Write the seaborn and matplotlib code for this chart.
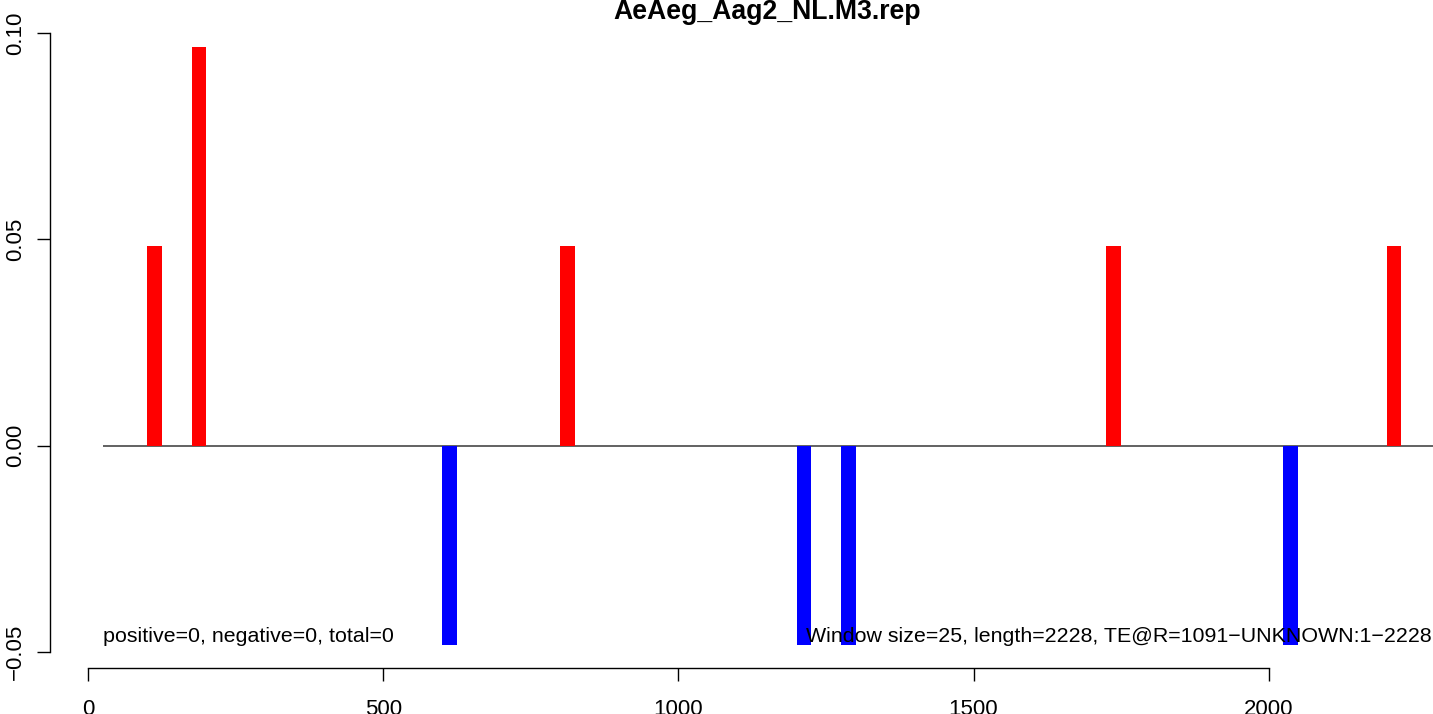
import numpy as np
import pandas as pd
import seaborn as sns
from matplotlib import pyplot as plt

#--------------------------Data------------------------------------------------
window_size = 25
win_centers = [112.5, 187.5, 612.5, 812.5, 1212.5, 1287.5, 1737.5, 2037.5, 2212.5]
win_values = [0.0484, 0.0967, -0.0484, 0.0484, -0.0484, -0.0484, 0.0484, -0.0484, 0.0484]

x_ticks = [0, 500, 1000, 1500, 2000]
y_ticks = [-0.05, 0.00, 0.05, 0.10]
y_ticklabels = ['\u22120.05', '0.00', '0.05', '0.10']

title = 'AeAeg_Aag2_NL.M3.rep'
left_note = 'positive=0, negative=0, total=0'
right_note = 'Window size=25, length=2228, TE@R=1091\u2212UNKNOWN:1\u22122228'

#--------------------------Plot------------------------------------------------
sns.set_style('white')
plt.rcParams['font.family'] = ['Liberation Sans', 'DejaVu Sans']
plt.rcParams['text.color'] = 'black'

df = pd.DataFrame({'pos': win_centers, 'val': win_values})
df['sign'] = np.where(df['val'] >= 0, 'plus', 'minus')

fig = plt.figure(figsize=(14.33, 7.14), dpi=100)
ax = fig.add_axes([50 / 1433, 46 / 714, 1434 / 1433, 645 / 714])

# baseline under the bars
ax.hlines(0, window_size, 2365, color='#555555', lw=1.3, zorder=0)

bar_w = window_size / np.min(np.diff(sorted(win_centers)))
sns.barplot(data=df, x='pos', y='val', hue='sign', palette={'plus': 'red', 'minus': 'blue'},
            native_scale=True, dodge=False, width=bar_w, errorbar=None, saturation=1,
            linewidth=0, legend=False, ax=ax, zorder=2)

ax.set_xlim(-65, 2365)
ax.set_ylim(-0.0539, 0.1024)
ax.set_xlabel('')
ax.set_ylabel('')

ax.set_xticks(x_ticks)
ax.set_xticklabels([str(t) for t in x_ticks], fontsize=16)
ax.set_yticks(y_ticks)
ax.set_yticklabels(y_ticklabels, fontsize=16, rotation=90, va='center')
ax.tick_params(axis='both', bottom=True, left=True, length=9.5, width=1.0,
               color='black', labelcolor='black', direction='out')
ax.tick_params(axis='x', pad=13)
ax.tick_params(axis='y', pad=7.5)

sns.despine(ax=ax, top=True, right=True)
ax.spines['left'].set_bounds(-0.05, 0.10)
ax.spines['bottom'].set_bounds(0, 2000)
for s in ['left', 'bottom']:
    ax.spines[s].set_color('black')
    ax.spines[s].set_linewidth(1.0)
ax.grid(False)

ax.text(window_size, -0.0463, left_note, ha='left', va='center', fontsize=15.4)
ax.text(2277, -0.0463, right_note, ha='right', va='center', fontsize=15.4)

fig.text(767 / 1433, 1 - 12 / 714, title, ha='center', va='center', fontsize=19.2, weight='bold')

fig.savefig('out.png', dpi=100)
